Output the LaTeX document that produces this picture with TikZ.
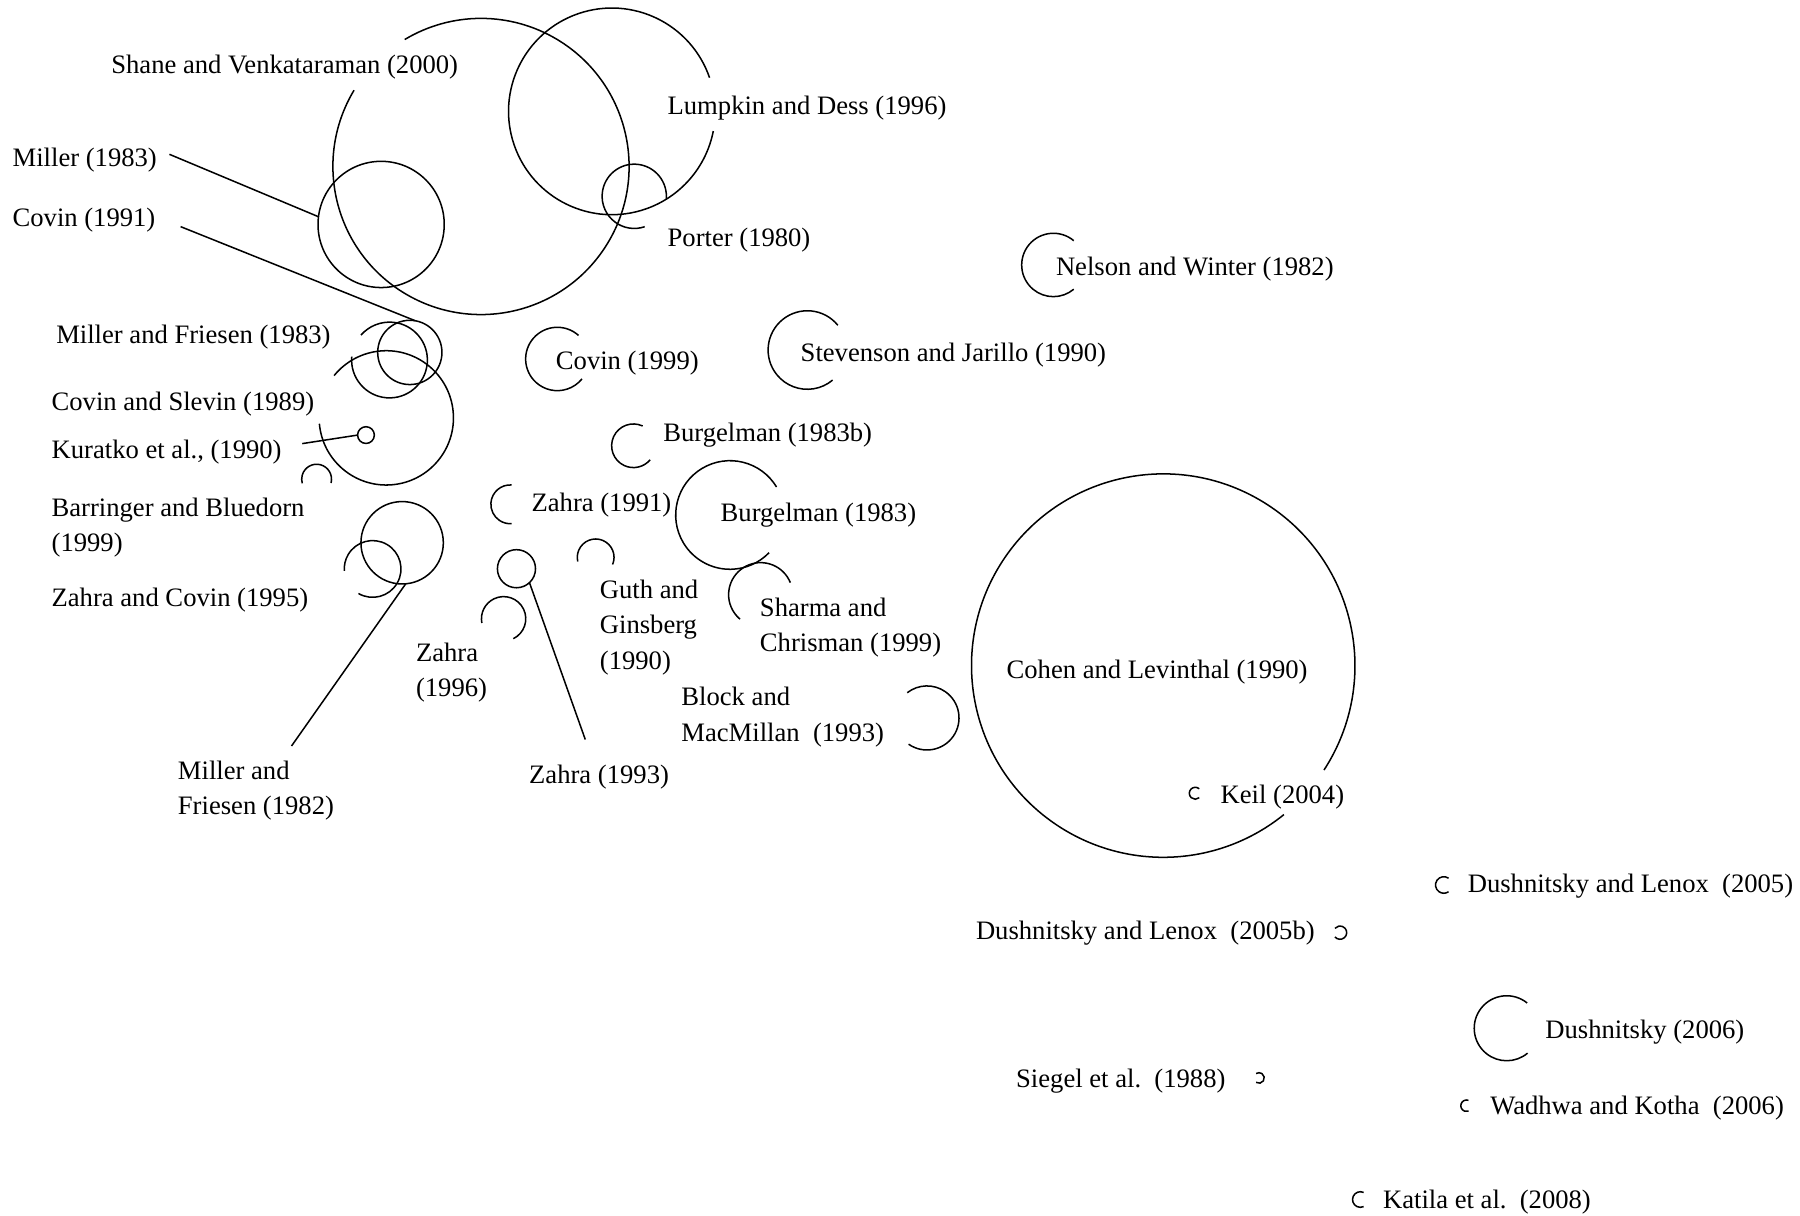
\documentclass[tikz,border=0pt]{standalone}
\usepackage{fontspec}
\setmainfont{Liberation Serif}
\tikzset{
  lbl/.style={anchor=base west, inner sep=0pt, outer sep=0pt, align=left},
  ring/.style={circle, draw, inner sep=0pt, outer sep=0pt, minimum size=#1*0.04cm},
}
\begin{document}
\begin{tikzpicture}[x=0.02cm, y=0.02cm, line width=0.75pt, font=\fontsize{13.2}{17.4}\selectfont]
    \useasboundingbox (0,0) rectangle (1568,-1059);
    % open arcs: centre x / centre y / radius / start / end
    \foreach \cx/\cy/\r/\a/\b in {
        419/-145/129/149/481,       % Shane and Venkataraman
        533/-97/90/19/349,          % Lumpkin and Dess
        552.5/-171/28/-6/289,       % Porter
        339.3/-313.6/33/175/499,    % Miller and Friesen (1983)
        336.5/-364/58.5/185/501,    % Covin and Slevin
        275.8/-417.4/13/-15/196,    % small arc
        324.6/-495.6/24.7/240/544,  % Zahra and Covin
        485.5/-312.7/27.6/48/321,   % Covin (1999)
        551.8/-388.3/19/65/320,     % Burgelman (1983b)
        444.5/-439.3/16.9/86/274,   % Zahra (1991)
        635.9/-448.6/47.3/31/316,   % Burgelman (1983)
        518.9/-485.5/16/-23/193,    % Guth and Ginsberg
        438.7/-539/19.3/-64/191,    % Zahra (1996)
        662.6/-518/27.9/22/230,     % Sharma and Chrisman
        807.5/-625.4/27.9/-125/128, % Block and MacMillan
        917.6/-230.8/27.6/50/310,   % Nelson and Winter
        703.3/-304.9/34.2/39/310,   % Stevenson and Jarillo
        1013.3/-579.8/167/-33/309,  % Cohen and Levinthal
        1041.2/-691/5.2/48/312,     % Keil
        1257.7/-770.9/7.2/55/305,   % Dushnitsky and Lenox (2005)
        1167.3/-812.4/5.8/-140/140, % Dushnitsky and Lenox (2005b)
        1312.5/-895.7/28.3/51/310,  % Dushnitsky (2006)
        1096.7/-939/4.6/-123/123,   % Siegel et al.
        1277.5/-963.2/5/70/290,     % Wadhwa and Kotha
        1185/-1044.9/6.8/65/295}    % Katila et al.
        \draw (\cx,\cy) ++(\a:\r) arc[start angle=\a, end angle=\b, radius=\r];
    % closed circles
    \node[ring=55]   (cMiller)    at (332,-195.5) {};
    \node[ring=28]   (cFriesenA)  at (357,-307) {};
    \node[ring=7.3]  (cKuratko)   at (318.8,-379) {};
    \node[ring=35.9] (cBarringer) at (350.3,-472.8) {};
    \node[ring=16.6] (cZahraC)    at (449.9,-495.4) {};
    % labels (multi-line ones sit on their last line)
    \node[lbl] (lShane)     at (97,-64)     {Shane and Venkataraman (2000)};
    \node[lbl] (lLumpkin)   at (581.6,-100) {Lumpkin and Dess (1996)};
    \node[lbl] (lMiller)    at (11,-145)    {Miller (1983)};
    \node[lbl] (lCovinA)    at (11,-197)    {Covin (1991)};
    \node[lbl] (lPorter)    at (581.6,-215) {Porter (1980)};
    \node[lbl] (lNelson)    at (919.9,-240.4) {Nelson and Winter (1982)};
    \node[lbl] (lFriesenA)  at (49,-299)    {Miller and Friesen (1983)};
    \node[lbl] (lCovinB)    at (484.3,-321.7) {Covin (1999)};
    \node[lbl] (lStevenson) at (697.5,-315) {Stevenson and Jarillo (1990)};
    \node[lbl] (lSlevin)    at (45,-357.7)  {Covin and Slevin (1989)};
    \node[lbl] (lKuratko)   at (45,-399)    {Kuratko et al., (1990)};
    \node[lbl] (lBurgB)     at (577.8,-384.7) {Burgelman (1983b)};
    \node[lbl] (lBarringer) at (45,-480.5)  {Barringer and Bluedorn\\(1999)};
    \node[lbl] (lZahraA)    at (463.1,-445.7) {Zahra (1991)};
    \node[lbl] (lBurgA)     at (627.8,-454.4) {Burgelman (1983)};
    \node[lbl] (lZahraCovin) at (45,-528.1) {Zahra and Covin (1995)};
    \node[lbl] (lGuth)      at (522.6,-582.8) {Guth and\\Ginsberg\\(1990)};
    \node[lbl] (lSharma)    at (662,-567.7) {Sharma and\\Chrisman (1999)};
    \node[lbl] (lZahraB)    at (362.4,-606.4) {Zahra\\(1996)};
    \node[lbl] (lBlock)     at (593.6,-645.5) {Block and\\MacMillan\ \ (1993)};
    \node[lbl] (lCohen)     at (876.9,-590.9) {Cohen and Levinthal (1990)};
    \node[lbl] (lFriesenB)  at (155,-709.5) {Miller and\\Friesen (1982)};
    \node[lbl] (lZahraC)    at (461,-682.3) {Zahra (1993)};
    \node[lbl] (lKeil)      at (1063.3,-700.3) {Keil (2004)};
    \node[lbl] (lLenoxA)    at (1278.6,-777.6) {Dushnitsky and Lenox\ \ (2005)};
    \node[lbl] (lLenoxB)    at (850.2,-818.2) {Dushnitsky and Lenox\ \ (2005b)};
    \node[lbl] (lDushnitsky) at (1346.2,-904.5) {Dushnitsky (2006)};
    \node[lbl] (lSiegel)    at (885.2,-947.2) {Siegel et al.\ \ (1988)};
    \node[lbl] (lWadhwa)    at (1298.2,-970.4) {Wadhwa and Kotha\ \ (2006)};
    \node[lbl] (lKatila)    at (1204.8,-1052.5) {Katila et al.\ \ (2008)};
    % leader lines
    \draw ([shift={(11,5)}]lMiller.east) -- (cMiller.173);
    \draw ([shift={(22,-6)}]lCovinA.east) -- (cFriesenA.80);
    \draw ([shift={(18,7)}]lKuratko.east) -- (cKuratko.west);
    \draw (cBarringer.-85) -- ([shift={(31,13)}]lFriesenB.north);
    \draw (cZahraC.-47) -- ([shift={(-12,22)}]lZahraC.north);
\end{tikzpicture}
\end{document}
